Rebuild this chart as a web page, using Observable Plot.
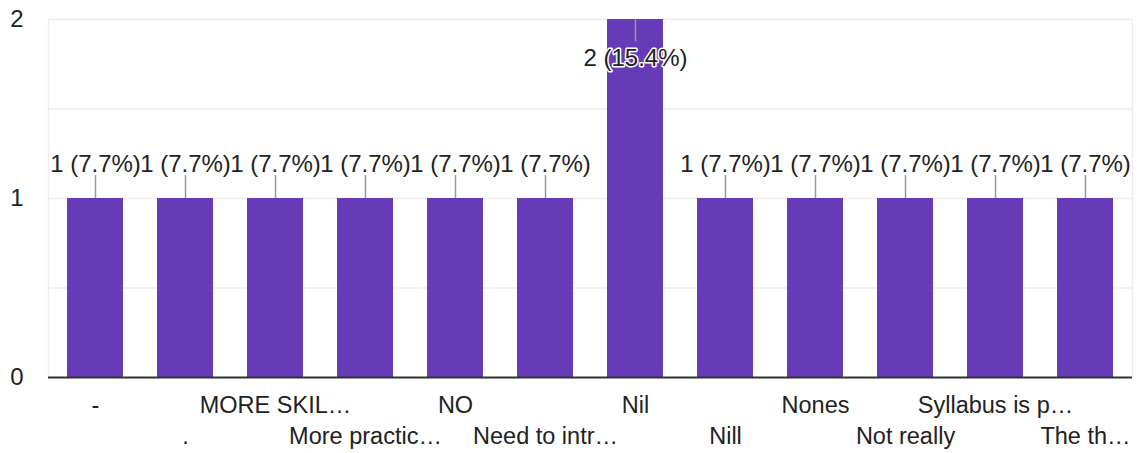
<!DOCTYPE html>
<html>
<head>
<meta charset="utf-8">
<script src="https://cdn.jsdelivr.net/npm/d3@7"></script>
<script src="https://cdn.jsdelivr.net/npm/@observablehq/plot@0.6"></script>
<style>
  html, body { margin: 0; padding: 0; background: #fff; }
  #chart svg { display: block; }
</style>
</head>
<body>
<div id="chart"></div>
<script>
const categories = ["-", ".", "MORE SKIL…", "More practic…", "NO", "Need to intr…", "Nil", "Nill", "Nones", "Not really", "Syllabus is p…", "The th…"];
const counts = [1, 1, 1, 1, 1, 1, 2, 1, 1, 1, 1, 1];
const yTicks = [0, 1, 2];
const gridLines = [0.5, 1, 1.5, 2];

const total = d3.sum(counts);
const maxCount = d3.max(counts);
const data = categories.map((c, i) => ({
  cat: c,
  value: counts[i],
  row: i % 2,
  label: `${counts[i]} (${(counts[i] / total * 100).toFixed(1)}%)`,
  top: counts[i] === maxCount
}));

const font = "Liberation Sans, Arial, sans-serif";
const textColor = "#222222";

const chart = Plot.plot({
  width: 1138,
  height: 453,
  marginLeft: 48,
  marginRight: 6,
  marginTop: 19,
  marginBottom: 76,
  style: { fontFamily: font, background: "#ffffff", color: textColor, overflow: "visible" },
  x: { domain: categories, paddingInner: 0.377, paddingOuter: 0.2, axis: null },
  y: { domain: [0, 2], axis: null, label: null },
  marks: [
    Plot.frame({ stroke: "#eeeeee", strokeWidth: 1.5 }),
    Plot.ruleY(gridLines, { stroke: "#eeeeee", strokeWidth: 1.5 }),
    Plot.barY(data, { x: "cat", y: "value", fill: "#673ab7" }),
    Plot.ruleY([0], { stroke: "#333333", strokeWidth: 2 }),
    Plot.ruleX(data, {
      x: "cat",
      y1: "value",
      y2: d => d.top ? d.value - 0.125 : d.value + 0.128,
      stroke: "#999999",
      strokeWidth: 1.5
    }),
    Plot.text(data, {
      x: "cat",
      y: "value",
      text: "label",
      fontSize: 24,
      fill: textColor,
      stroke: "white",
      strokeWidth: 3,
      filter: d => !d.top,
      lineAnchor: "middle",
      dy: -34
    }),
    Plot.text(data, {
      x: "cat",
      y: "value",
      text: "label",
      fontSize: 24,
      fill: textColor,
      stroke: "white",
      strokeWidth: 3,
      filter: d => d.top,
      lineAnchor: "middle",
      dy: 39
    }),
    Plot.axisY(yTicks, {
      label: null,
      tickSize: 0,
      tickPadding: 25,
      fontSize: 24,
      fill: textColor,
      tickFormat: d => String(d)
    }),
    Plot.text(data.filter(d => d.row === 0), {
      x: "cat",
      y: 0,
      text: "cat",
      fontSize: 23.5,
      fill: textColor,
      lineAnchor: "middle",
      dy: 28
    }),
    Plot.text(data.filter(d => d.row === 1), {
      x: "cat",
      y: 0,
      text: "cat",
      fontSize: 23.5,
      fill: textColor,
      lineAnchor: "middle",
      dy: 59
    })
  ]
});
document.getElementById("chart").appendChild(chart);
</script>
</body>
</html>
